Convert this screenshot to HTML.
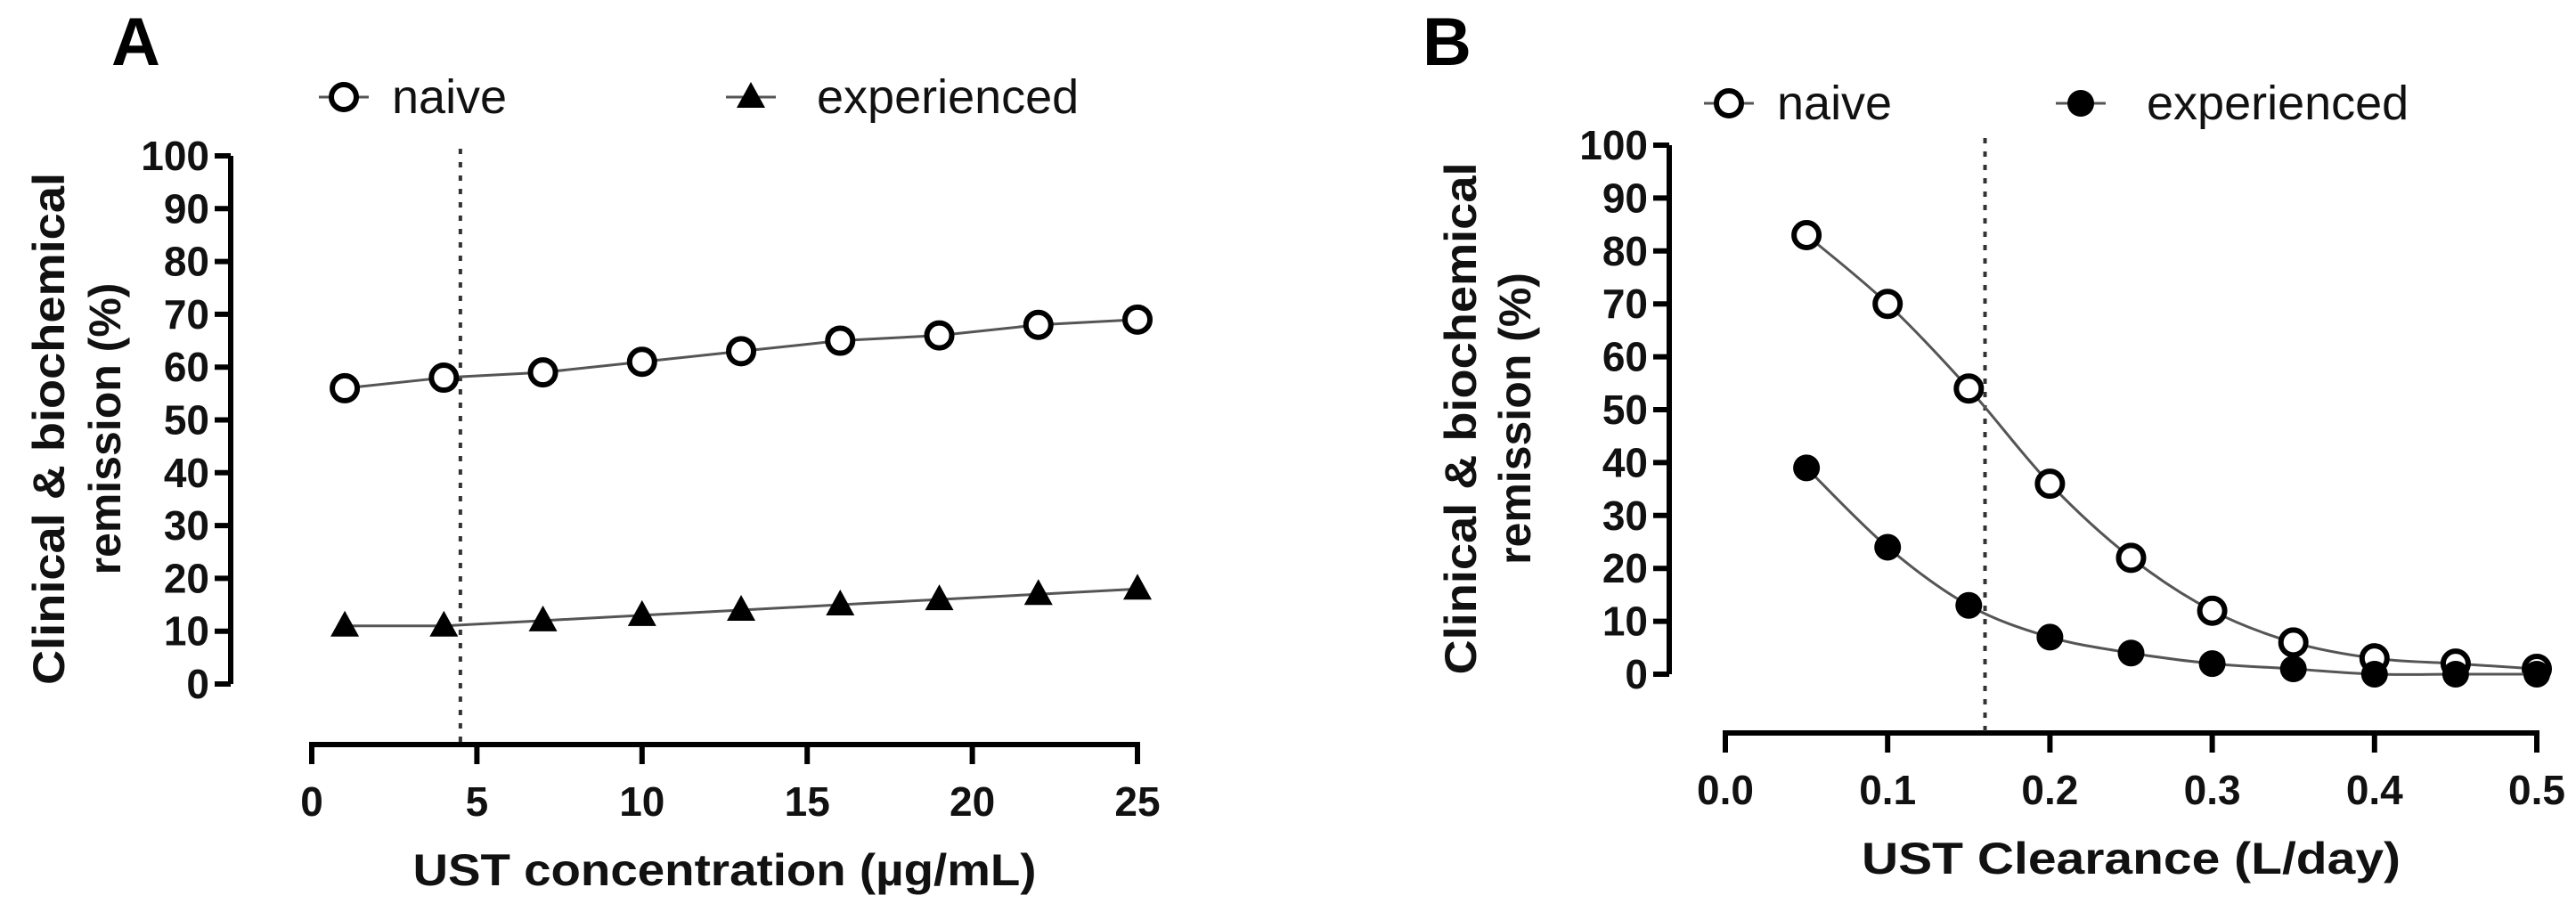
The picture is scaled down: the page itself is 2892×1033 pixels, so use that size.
<!DOCTYPE html>
<html><head><meta charset="utf-8"><style>
html,body{margin:0;padding:0;background:#fff;}
svg{display:block;font-family:"Liberation Sans",Arial,sans-serif;}
</style></head><body>
<svg id="c" width="2892" height="1033" viewBox="0 0 2892 1033" xmlns="http://www.w3.org/2000/svg"></svg>
<script>
const aX=[1,4,7,10,13,16,19,22,25];
const aNaive=[56,58,59,61,63,65,66,68,69];
const aExp=[11,11,12,13,14,15,16,17,18];
const aXTicks=[0,5,10,15,20,25];
const bX=[0.05,0.1,0.15,0.2,0.25,0.3,0.35,0.4,0.45,0.5];
const bNaive=[83,70,54,36,22,12,6,3,2,1];
const bExp=[39,24,13,7,4,2,1,0,0,0];
const bXTicks=[0,0.1,0.2,0.3,0.4,0.5];
const yTicks=[0,10,20,30,40,50,60,70,80,90,100];
const NS="http://www.w3.org/2000/svg";
const svg=document.getElementById('c');
function el(t,a,p){const e=document.createElementNS(NS,t);for(const k in a)e.setAttribute(k,a[k]);(p||svg).appendChild(e);return e;}
function txt(s,a,p){const e=el('text',a,p);e.textContent=s;return e;}
function smooth(pts){let d='M'+pts[0][0]+','+pts[0][1];for(let i=0;i<pts.length-1;i++){const p0=pts[i-1]||pts[i],p1=pts[i],p2=pts[i+1],p3=pts[i+2]||p2;const c1=[p1[0]+(p2[0]-p0[0])/6,p1[1]+(p2[1]-p0[1])/6],c2=[p2[0]-(p3[0]-p1[0])/6,p2[1]-(p3[1]-p1[1])/6];d+=' C'+c1+' '+c2+' '+p2;}return d;}
function panel(o){
  const g=el('g',{});
  
  
  const sx=v=>o.x0+(v-o.xmin)/(o.xmax-o.xmin)*(o.x1-o.x0);
  const sy=v=>o.y0+(v/100)*(o.y100-o.y0);
  let t=txt(o.letter,{x:o.lx,y:73,'font-size':76,'font-weight':'bold'},g);
  
  let ax=el('line',{x1:o.yax,x2:o.yax,y1:sy(100),y2:sy(0),stroke:'#000','stroke-width':6},g);
  
  yTicks.forEach(v=>{
    el('line',{x1:o.yax-18,x2:o.yax,y1:sy(v),y2:sy(v),stroke:'#000','stroke-width':6},g);
    const l=txt(String(v),{x:o.yax-24,y:sy(v)+16,'font-size':46,'font-weight':'bold','text-anchor':'end',fill:'#111'},g);
    
  });
  ax=el('line',{x1:sx(o.xmin)-3,x2:sx(o.xmax)+3,y1:o.xay,y2:o.xay,stroke:'#000','stroke-width':6},g);
  
  o.xticks.forEach(v=>{
    el('line',{x1:sx(v),x2:sx(v),y1:o.xay,y2:o.xay+22,stroke:'#000','stroke-width':6},g);
    const l=txt(o.fmt(v),{x:sx(v),y:o.xay+80,'font-size':46,'font-weight':'bold','text-anchor':'middle',fill:'#111'},g);
    
  });
  const dl=el('line',{x1:sx(o.cut),x2:sx(o.cut),y1:sy(100)-8,y2:o.xay,stroke:'#333','stroke-width':4,'stroke-dasharray':'6 9'},g);
  
  t=txt(o.xtitle,{x:(sx(o.xmin)+sx(o.xmax))/2,y:o.xay+158,'font-size':50,'font-weight':'bold','text-anchor':'middle',fill:'#111',textLength:o.xtl,lengthAdjust:'spacingAndGlyphs'},g);
  
  const yc=(sy(0)+sy(100))/2+10;
  t=txt('Clinical & biochemical',{x:0,y:0,'font-size':50,'font-weight':'bold','text-anchor':'middle',fill:'#111',transform:`translate(${o.yt1},${yc}) rotate(-90)`,textLength:575,lengthAdjust:'spacingAndGlyphs'},g);
  
  t=txt('remission (%)',{x:0,y:0,'font-size':50,'font-weight':'bold','text-anchor':'middle',fill:'#111',transform:`translate(${o.yt2},${yc}) rotate(-90)`},g);
  
  function series(xs,ys,kind,name){
    const sg=el('g',{},g);
    
    const pts=xs.map((x,i)=>[sx(x),sy(ys[i])]);
    el('path',{d:o.curve?smooth(pts):'M'+pts.join(' L'),fill:'none',stroke:'#555','stroke-width':3},sg);
    pts.forEach(p=>{
      const m=marker(kind,p[0],p[1],sg);
      
    });
  }
  function marker(kind,x,y,p){
    if(kind==='open')return el('circle',{cx:x,cy:y,r:14,fill:'#fff',stroke:'#000','stroke-width':6},p);
    if(kind==='fill')return el('circle',{cx:x,cy:y,r:15,fill:'#000'},p);
    return el('polygon',{points:`${x},${y-17} ${x+16},${y+12} ${x-16},${y+12}`,fill:'#000'},p);
  }
  series(o.xs,o.n,'open','naive-series');
  series(o.xs,o.e,o.ek,'experienced-series');
  const lg=el('g',{},g);
  [[o.lg1,'open','naive',54],[o.lg2,o.ek,'experienced',74]].forEach(([lx,k,s,off])=>{
    const eg=el('g',{},lg);
    el('line',{x1:lx-28,x2:lx+28,y1:o.ly,y2:o.ly,stroke:'#555','stroke-width':3},eg);
    marker(k,lx,o.ly,eg);
    txt(s,{x:lx+off,y:o.ly+18,'font-size':54,fill:'#111'},eg);
  });
}
panel({name:'panel-a',letter:'A',lx:125,x0:350,x1:1277,xmin:0,xmax:25,y0:768,y100:175,yax:259,xay:836,
  xticks:aXTicks,fmt:v=>String(v),cut:4.5,xtitle:'UST concentration (µg/mL)',xtl:700,yt1:72,yt2:135,
  xs:aX,n:aNaive,e:aExp,ek:'tri',curve:false,lg1:386,lg2:843,ly:109});
panel({name:'panel-b',letter:'B',lx:1597,x0:1937,x1:2848,xmin:0,xmax:0.5,y0:757,y100:163,yax:1874,xay:823,
  xticks:bXTicks,fmt:v=>v.toFixed(1),cut:0.16,xtitle:'UST  Clearance (L/day)',xtl:605,yt1:1657,yt2:1718,
  xs:bX,n:bNaive,e:bExp,ek:'fill',curve:true,lg1:1941,lg2:2336,ly:116});
</script>
</body></html>
